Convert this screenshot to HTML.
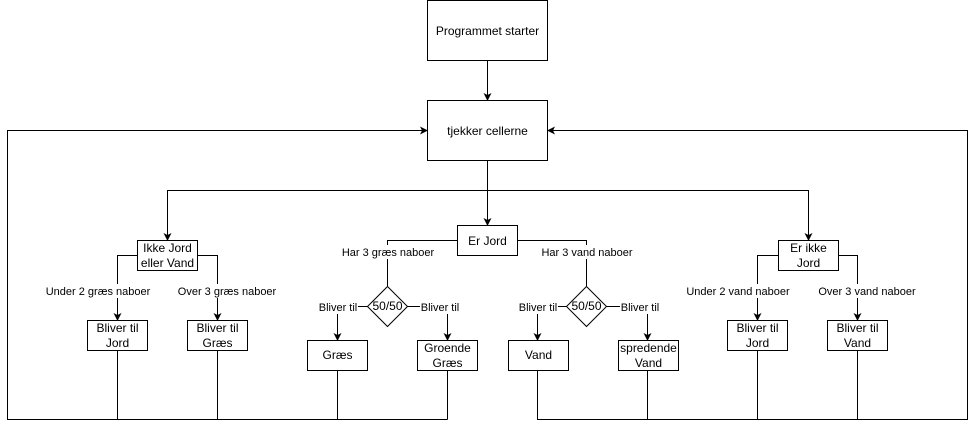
<!DOCTYPE html>
<html><head><meta charset="utf-8"><style>
html,body{margin:0;padding:0;background:#fff;width:976px;height:429px;overflow:hidden}
svg text{font-family:"Liberation Sans",Arial,sans-serif;font-size:12px;fill:#000}
.s{font-size:11px}
</style></head><body>
<svg width="976" height="429" viewBox="0 0 976 429" xmlns="http://www.w3.org/2000/svg">
<defs><marker id="a" markerWidth="8" markerHeight="8" refX="7" refY="4" orient="auto" markerUnits="userSpaceOnUse"><path d="M0,0 L8,4 L0,8 L2,4 z" fill="#000"/></marker></defs>
<g fill="none" stroke="#000" stroke-width="1">
<rect x="427.5" y="0.5" width="120" height="60" fill="#fff"/>
<rect x="427.5" y="100.5" width="120" height="60" fill="#fff"/>
<path d="M487.5 60.5V100" marker-end="url(#a)"/>
<path d="M487.5 160.5V190.5H167.5V240" marker-end="url(#a)"/>
<path d="M487.5 190.5H808.5V240" marker-end="url(#a)"/>
<path d="M487.5 190.5V225" marker-end="url(#a)"/>
<!-- left group -->
<rect x="137.5" y="240.5" width="60" height="30" fill="#fff"/>
<path d="M137.5 255.5H117.5V320" marker-end="url(#a)"/>
<path d="M197.5 255.5H217.5V320" marker-end="url(#a)"/>
<rect x="87.5" y="320.5" width="60" height="30" fill="#fff"/>
<rect x="187.5" y="320.5" width="60" height="30" fill="#fff"/>
<!-- Er Jord -->
<rect x="457.5" y="225.5" width="60" height="30" fill="#fff"/>
<path d="M457.5 240.5H387.5V286"/>
<path d="M517.5 240.5H586.5V286"/>
<path d="M387.5 286.5L407.5 306.5L387.5 326.5L367.5 306.5Z" fill="#fff"/>
<path d="M586.5 286.5L606.5 306.5L586.5 326.5L566.5 306.5Z" fill="#fff"/>
<path d="M367.5 306.5H337.5V340" marker-end="url(#a)"/>
<path d="M407.5 306.5H447.5V340" marker-end="url(#a)"/>
<path d="M566.5 306.5H537.5V340" marker-end="url(#a)"/>
<path d="M606.5 306.5H647.5V340" marker-end="url(#a)"/>
<rect x="307.5" y="340.5" width="60" height="30" fill="#fff"/>
<rect x="417.5" y="340.5" width="60" height="30" fill="#fff"/>
<rect x="508.5" y="340.5" width="60" height="30" fill="#fff"/>
<rect x="618.5" y="340.5" width="60" height="30" fill="#fff"/>
<!-- Er ikke Jord -->
<rect x="778.5" y="240.5" width="60" height="30" fill="#fff"/>
<path d="M778.5 255.5H757.5V320" marker-end="url(#a)"/>
<path d="M838.5 255.5H857.5V320" marker-end="url(#a)"/>
<rect x="727.5" y="320.5" width="60" height="30" fill="#fff"/>
<rect x="827.5" y="320.5" width="60" height="30" fill="#fff"/>
<!-- loops -->
<path d="M117.5 350.5V419.5M217.5 350.5V419.5M337.5 370.5V419.5M447.5 370.5V419.5"/>
<path d="M447.5 419.5H7.5V130.5H427" marker-end="url(#a)"/>
<path d="M537.5 370.5V419.5H967.5V130.5H548" marker-end="url(#a)"/>
<path d="M647.5 370.5V419.5M757.5 350.5V419.5M857.5 350.5V419.5"/>
</g>
<g text-anchor="middle">
<text x="487.5" y="35">Programmet starter</text>
<text x="487.5" y="135">tjekker cellerne</text>
<text x="167.5" y="252">Ikke Jord</text><text x="167.5" y="267">eller Vand</text>
<text x="117.5" y="332">Bliver til</text><text x="117.5" y="347">Jord</text>
<text x="217.5" y="332">Bliver til</text><text x="217.5" y="347">Græs</text>
<text x="487.5" y="245">Er Jord</text>
<text x="387.5" y="310">50/50</text>
<text x="586.5" y="310">50/50</text>
<text x="337.5" y="359">Græs</text>
<text x="447.5" y="352">Groende</text><text x="447.5" y="367">Græs</text>
<text x="538.5" y="359">Vand</text>
<text x="648.5" y="352">spredende</text><text x="648.5" y="367">Vand</text>
<text x="808.5" y="252">Er ikke</text><text x="808.5" y="267">Jord</text>
<text x="757.5" y="332">Bliver til</text><text x="757.5" y="347">Jord</text>
<text x="857.5" y="332">Bliver til</text><text x="857.5" y="347">Vand</text>
</g>
<g text-anchor="middle" class="s">
<rect x="42" y="284" width="150" height="14" fill="#fff"/>
<text class="s" x="98" y="295">Under 2 græs naboer</text>
<rect x="175" y="284" width="105" height="14" fill="#fff"/>
<text class="s" x="227" y="295">Over 3 græs naboer</text>
<rect x="340" y="245" width="95" height="14" fill="#fff"/>
<text class="s" x="388" y="256">Har 3 græs naboer</text>
<rect x="540" y="245" width="95" height="14" fill="#fff"/>
<text class="s" x="587" y="256">Har 3 vand naboer</text>
<rect x="318" y="300" width="40" height="14" fill="#fff"/>
<text class="s" x="338" y="311">Bliver til</text>
<rect x="420" y="300" width="40" height="14" fill="#fff"/>
<text class="s" x="440" y="311">Bliver til</text>
<rect x="518" y="300" width="40" height="14" fill="#fff"/>
<text class="s" x="538" y="311">Bliver til</text>
<rect x="620" y="300" width="40" height="14" fill="#fff"/>
<text class="s" x="640" y="311">Bliver til</text>
<rect x="685" y="284" width="108" height="14" fill="#fff"/>
<text class="s" x="738" y="295">Under 2 vand naboer</text>
<rect x="817" y="284" width="100" height="14" fill="#fff"/>
<text class="s" x="867" y="295">Over 3 vand naboer</text>
</g>
</svg>
</body></html>
